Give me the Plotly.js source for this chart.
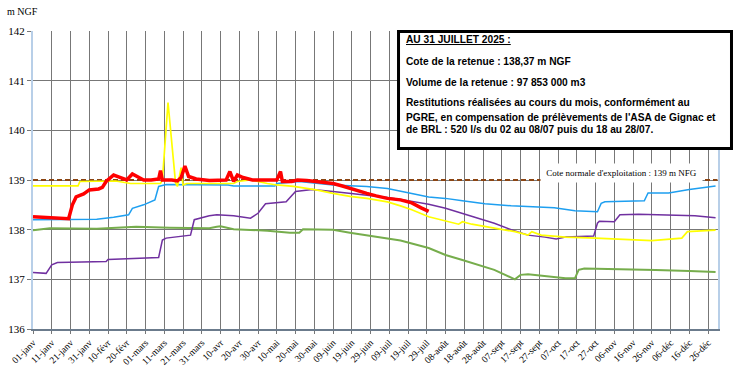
<!DOCTYPE html>
<html>
<head>
<meta charset="utf-8">
<script src="https://cdn.plot.ly/plotly-3.0.1.min.js"></script>
<style>html,body{margin:0;padding:0;background:#fff;}#chart{width:737px;height:368px;}</style>
</head>
<body>
<div id="chart"></div>
<script>
// Tick labels (day of year -> label)
const tickDays = [1,11,21,31,41,51,61,71,81,91,101,111,121,131,141,151,161,171,181,191,201,211,221,231,241,251,261,271,281,291,301,311,321,331,341,351,361];
const tickLabels = ["01-janv","11-janv","21-janv","31-janv","10-févr","20-févr","01-mars","11-mars","21-mars","31-mars","10-avr","20-avr","30-avr","10-mai","20-mai","30-mai","09-juin","19-juin","29-juin","09-juil","19-juil","29-juil","08-août","18-août","28-août","07-sept","17-sept","27-sept","07-oct","17-oct","27-oct","06-nov","16-nov","26-nov","06-déc","16-déc","26-déc"];
const yTicks = [136,137,138,139,140,141,142];

// Cote normale d'exploitation
const coteDays = [1, 366];
const coteValues = [139, 139];

// Red series (2025)
const redDays = [1,10,20,22,24,28,31,36,38,40,44,47,51,54,56,60,64,67,68,69,70,75,78,80,82,84,88,95,100,104,106,108,110,113,118,125,131,133,134,139,142,147,152,157,161,166,170,175,179,184,190,197,203,208,212];
const redValues = [138.26,138.24,138.22,138.5,138.66,138.72,138.80,138.82,138.85,138.97,139.1,139.06,139.0,139.12,139.08,139.0,139.0,139.02,139.02,139.19,139.0,139.0,138.98,139.05,139.28,139.07,139.02,138.99,139.0,139.0,139.17,138.97,139.1,139.05,139.0,139.0,139.0,139.17,138.97,138.97,139.0,138.99,138.97,138.95,138.93,138.88,138.83,138.78,138.73,138.68,138.63,138.6,138.54,138.44,138.37];

// Yellow series
const yellowDays = [1,25,26,45,50,53,67,69,70,73,77,78,80,81,83,95,108,110,117,126,131,140,152,161,170,179,190,197,203,212,221,228,230,235,247,258,265,267,272,285,301,315,331,347,350,365];
const yellowValues = [138.88,138.88,138.97,138.98,138.95,138.93,138.93,138.93,139.0,140.56,138.95,138.87,139.25,138.9,138.93,138.93,138.93,138.97,139.0,138.93,138.9,138.87,138.8,138.73,138.67,138.63,138.56,138.48,138.40,138.26,138.17,138.11,138.16,138.11,138.03,137.96,137.89,137.96,137.89,137.85,137.83,137.81,137.78,137.83,137.96,137.99];

// Blue series
const blueDays = [1,28,35,44,52,54,60,66,68,72,90,105,108,130,131,143,161,179,190,197,203,212,221,230,242,256,269,279,290,302,304,306,327,329,340,351,365];
const blueValues = [138.2,138.2,138.21,138.25,138.3,138.43,138.5,138.6,138.87,138.91,138.91,138.9,138.88,138.88,138.93,138.97,138.9,138.87,138.83,138.77,138.73,138.66,138.63,138.58,138.52,138.48,138.46,138.44,138.38,138.36,138.53,138.56,138.58,138.74,138.74,138.81,138.88];

// Purple series
const purpleDays = [1,8,11,14,40,41,68,70,72,85,87,95,99,108,117,121,125,136,141,150,161,179,190,197,212,221,230,238,247,256,265,274,280,285,300,302,303,311,314,324,342,354,365];
const purpleValues = [137.14,137.12,137.29,137.34,137.36,137.4,137.44,137.79,137.83,137.89,138.2,138.28,138.3,138.28,138.23,138.33,138.52,138.56,138.77,138.81,138.77,138.7,138.65,138.61,138.51,138.43,138.33,138.23,138.13,138.0,137.89,137.85,137.81,137.85,137.87,138.13,138.17,138.16,138.3,138.31,138.3,138.28,138.24];

// Green series
const greenDays = [1,10,35,56,74,95,99,101,108,126,138,143,145,161,170,179,190,197,212,221,230,239,247,258,261,265,274,285,290,292,295,315,333,351,365];
const greenValues = [137.99,138.03,138.02,138.06,138.04,138.03,138.06,138.07,138.01,137.98,137.94,137.94,138.01,138.0,137.94,137.89,137.83,137.78,137.63,137.49,137.39,137.29,137.19,137.0,137.09,137.1,137.07,137.02,137.02,137.19,137.22,137.21,137.19,137.17,137.15];

function line(x, y, color, width, dash) {
  return {x: x, y: y, type: 'scatter', mode: 'lines', hoverinfo: 'skip',
          line: {color: color, width: width, dash: dash || 'solid'}};
}

const traces = [
  line(coteDays, coteValues, '#8B4513', 2, '5px,3px'),
  line(greenDays, greenValues, '#76AD4C', 2),
  line(purpleDays, purpleValues, '#7030A0', 1.5),
  line(blueDays, blueValues, '#1E9FF0', 1.5),
  line(yellowDays, yellowValues, '#FFFF00', 1.7),
  line(redDays, redValues, '#FF0000', 3.5)
];

const serif = 'Liberation Serif, Times New Roman, serif';
const sans = 'Liberation Sans, Arial, sans-serif';
const boxFont = {family: sans, size: 10.2, color: '#000'};

function txt(y, t) {
  return {xref: 'paper', yref: 'paper', x: 0.5416, y: y, xanchor: 'left', yanchor: 'middle',
          text: t, showarrow: false, font: boxFont, align: 'left'};
}

const layout = {
  width: 737, height: 368,
  margin: {l: 33, r: 19, t: 31, b: 39, pad: 0},
  paper_bgcolor: '#fff', plot_bgcolor: '#fff',
  showlegend: false,
  xaxis: {
    range: [1, 366.3], tickvals: tickDays, ticktext: tickLabels, tickangle: -45,
    showgrid: true, gridcolor: '#777', gridwidth: 1,
    showline: true, linecolor: '#6b7b8c', linewidth: 1.5,
    ticks: 'outside', ticklen: 3, tickcolor: '#777',
    tickfont: {family: serif, size: 9.5, color: '#000'}, zeroline: false, fixedrange: true
  },
  yaxis: {
    range: [136, 142], tickvals: yTicks, ticktext: yTicks.map(String),
    showgrid: true, gridcolor: '#777', gridwidth: 1,
    showline: true, linecolor: '#b8cfe8', linewidth: 2, mirror: true,
    ticks: 'outside', ticklen: 4, tickcolor: '#777',
    tickfont: {family: serif, size: 11, color: '#000'}, zeroline: false, fixedrange: true
  },
  shapes: [
    {type: 'rect', xref: 'paper', yref: 'paper', x0: 0.5336, x1: 1.0197, y0: 0.6057, y1: 0.9983,
     line: {color: '#000', width: 3}, fillcolor: '#fff', layer: 'above'}
  ],
  annotations: [
    {xref: 'paper', yref: 'paper', x: -0.0146, y: 1.0638, xanchor: 'center', yanchor: 'middle',
     text: 'm NGF', showarrow: false, font: {family: serif, size: 10, color: '#000'}},
    {xref: 'paper', yref: 'paper', x: 0.859, y: 0.5235, xanchor: 'center', yanchor: 'middle',
     text: "Cote normale d'exploitation : 139 m NFG", showarrow: false, bgcolor: '#fff',
     width: 157, height: 14, borderpad: 2, font: {family: serif, size: 9, color: '#000'}},
    txt(0.9698, '<b><u>AU 31 JUILLET 2025 :</u></b>'),
    txt(0.897, '<b>Cote de la retenue : 138,37 m NGF</b>'),
    txt(0.8279, '<b>Volume de la retenue : 97 853 000 m3</b>'),
    txt(0.7594, '<b>Restitutions réalisées au cours du mois, conformément au</b>'),
    txt(0.7104, "<b>PGRE, en compensation de prélèvements de l'ASA de Gignac et</b>"),
    txt(0.6678, '<b>de BRL : 520 l/s du 02 au 08/07 puis du 18 au 28/07.</b>')
  ]
};

Plotly.newPlot('chart', traces, layout, {staticPlot: true, displayModeBar: false});
</script>
</body>
</html>
